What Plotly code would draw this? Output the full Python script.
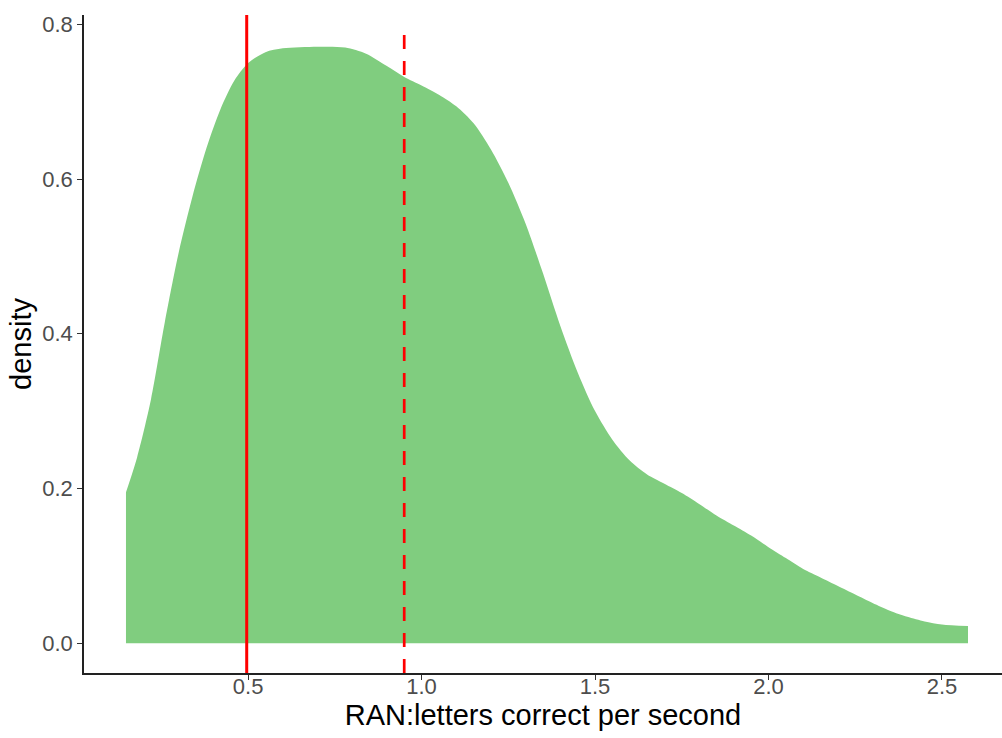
import plotly.graph_objects as go

# Density curve
ran_x = [0.148, 0.18, 0.22, 0.26, 0.30, 0.34, 0.38, 0.42, 0.46, 0.50, 0.55, 0.60, 0.70,
         0.78, 0.84, 0.90, 0.95, 1.00, 1.05, 1.10, 1.15, 1.20, 1.25, 1.30, 1.35, 1.40,
         1.45, 1.50, 1.55, 1.60, 1.65, 1.70, 1.75, 1.80, 1.85, 1.90, 1.95, 2.00, 2.05,
         2.10, 2.15, 2.20, 2.25, 2.30, 2.35, 2.40, 2.45, 2.50, 2.575]
density = [0.195, 0.240, 0.315, 0.415, 0.505, 0.578, 0.640, 0.690, 0.727, 0.750, 0.764,
           0.769, 0.771, 0.770, 0.762, 0.746, 0.732, 0.721, 0.709, 0.694, 0.672, 0.638,
           0.595, 0.542, 0.478, 0.410, 0.350, 0.300, 0.263, 0.236, 0.218, 0.206, 0.194,
           0.180, 0.165, 0.152, 0.139, 0.124, 0.110, 0.096, 0.085, 0.074, 0.063, 0.052,
           0.042, 0.034, 0.028, 0.024, 0.022]

median_x = 0.496   # solid red line
mean_x = 0.950     # dashed red line

x_ticks = [0.5, 1.0, 1.5, 2.0, 2.5]
x_tick_labels = ["0.5", "1.0", "1.5", "2.0", "2.5"]
y_ticks = [0.0, 0.2, 0.4, 0.6, 0.8]
y_tick_labels = ["0.0", "0.2", "0.4", "0.6", "0.8"]

fig = go.Figure()
fig.add_trace(go.Scatter(
    x=ran_x, y=density, mode="lines", fill="tozeroy",
    fillcolor="rgb(128,205,127)",
    line=dict(width=0, color="rgb(128,205,127)", shape="spline", smoothing=0.8),
    hoverinfo="skip", showlegend=False,
))

fig.add_shape(type="line", xref="x", yref="paper", x0=median_x, x1=median_x, y0=0, y1=1,
              line=dict(color="#FF0000", width=3))
fig.add_shape(type="line", xref="x", yref="paper", x0=mean_x, x1=mean_x, y0=0, y1=0.985,
              line=dict(color="#FF0000", width=2.7, dash="14px,12px"))

axis_common = dict(
    showgrid=False, zeroline=False, showline=True, linecolor="#222222", linewidth=1.6,
    ticks="outside", ticklen=5, tickwidth=1.3, tickcolor="#333333",
    tickfont=dict(family="Liberation Sans, Arial, sans-serif", size=22, color="#4D4D4D"),
    title_font=dict(family="Liberation Sans, Arial, sans-serif", size=29, color="#000000"),
)

fig.update_layout(
    width=1002, height=738,
    margin=dict(l=84, r=0, t=15, b=65),
    paper_bgcolor="white", plot_bgcolor="white",
    showlegend=False,
    xaxis=dict(range=[0.027, 2.673], tickvals=x_ticks, ticktext=x_tick_labels,
               ticklabelstandoff=-12,
               title=dict(text="RAN:letters correct per second", standoff=4), **axis_common),
    yaxis=dict(range=[-0.0386, 0.812], tickvals=y_ticks, ticktext=y_tick_labels,
               title=dict(text="density", standoff=2), **axis_common),
)

fig.write_html("out.html")
